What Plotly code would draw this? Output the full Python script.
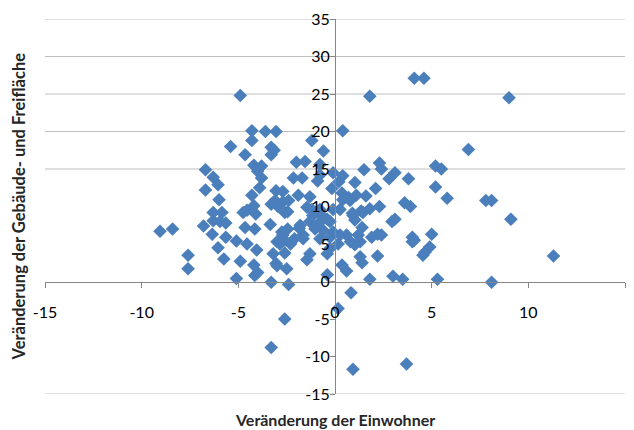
import plotly.graph_objects as go

# Veränderung der Einwohner (x) / Veränderung der Gebäude- und Freifläche (y)
x_einwohner = [
    -4.9, 1.8, 4.1, 4.6, 9.0, 6.9, 0.4, -4.3, -3.6, -3.05,
    -4.3, -5.4, -4.65, -3.3, -3.15, -3.3, -4.2, -3.8, -4.0, -6.7,
    -6.3, -6.05, -6.7, -6.0, -3.8, -3.9, -4.3, -4.2, -6.3, -5.85,
    -4.75, -4.55, -4.1, -3.05, -2.7, -3.3, -2.95, -2.7, -2.4, -2.45,
    -1.9, -2.0, -1.55, -2.15, -1.7, -1.2, -1.3, -0.9, -0.6, -0.78,
    -0.78, -0.1, 0.4, 0.2, -0.16, 0.36, 0.4, 0.78, 1.03, 1.1,
    1.6, 1.5, 2.3, 2.4, 2.1, 2.8, 3.1, 3.8, 3.6, 3.9,
    5.2, 5.5, 5.2, 5.8, 7.8, 8.1, 2.3, 1.8, 1.35, 0.9,
    9.1, 0.7, -9.05, -8.4, -7.6, -7.6, -6.8, -6.3, -5.95, -5.65,
    -6.35, -5.65, -5.1, -4.55, -6.05, -5.75, -4.9, -5.1, -4.65, -4.15,
    -4.05, -4.2, -4.0, -4.15, -3.35, -3.2, -3.05, -3.0, -3.3, -2.6,
    -2.5, -2.4, -2.6, -3.3, -2.45, -2.7, -3.0, -2.85, -2.3, -2.1,
    -1.85, -1.45, -1.3, -1.3, -1.65, -1.15, -1.2, -2.6, -0.4, -0.4,
    -0.26, 0.36, 0.6, 0.83, 0.16, 0.93, 3.7, 1.8, 3.0, 3.5,
    5.3, 8.1, 11.3, 2.2, 1.4, 1.3, 1.3, 1.2, 1.03, 0.8,
    0.6, 0.26, 0.16, 1.9, 2.2, 2.4, 2.95, 3.1, 4.0, 4.1,
    4.0, 5.0, 4.9, 4.65, 4.55, 0.93, 1.03, 1.4, 1.45, -0.78,
    -0.4, -0.6, -0.78, -1.65, -1.8, -0.1, 0.26, -0.78, -1.45, -3.1,
    -0.9, -0.6, -0.26, -0.1, -2.6, -0.26, -1.03, -2.75,
]
y_flaeche = [
    24.8, 24.7, 27.1, 27.1, 24.5, 17.6, 20.1, 20.1, 20.0, 20.0,
    18.8, 18.0, 16.9, 17.9, 17.5, 16.9, 15.5, 15.4, 14.7, 14.9,
    13.9, 12.9, 12.2, 10.9, 13.8, 12.5, 11.5, 10.1, 9.2, 9.2,
    9.2, 9.5, 9.0, 12.1, 12.0, 10.3, 10.0, 10.6, 10.8, 9.3,
    11.5, 15.9, 16.0, 13.8, 13.8, 18.8, 11.3, 13.4, 17.4, 15.6,
    14.2, 14.5, 14.1, 13.3, 12.4, 11.8, 10.9, 10.8, 13.2, 11.5,
    11.4, 14.9, 15.8, 15.0, 12.4, 13.7, 14.5, 13.7, 10.5, 10.0,
    15.4, 15.0, 12.6, 11.1, 10.8, 10.8, 10.0, 9.7, 9.4, 9.1,
    8.3, 11.2, 6.7, 7.0, 3.5, 1.7, 7.4, 8.1, 8.0, 7.8,
    6.3, 5.9, 5.4, 5.0, 4.5, 3.0, 2.7, 0.4, 7.2, 7.0,
    4.2, 2.2, 1.2, 0.8, 7.6, 3.7, 2.4, 2.1, -0.1, 3.8,
    1.7, -0.4, -5.0, -8.8, 7.0, 6.2, 5.3, 5.0, 5.0, 5.7,
    7.1, 2.9, 3.7, 8.0, 6.2, 8.8, 9.6, 9.2, 0.9, 3.7,
    4.4, 2.2, 1.4, -1.5, -3.6, -11.7, -11.0, 0.3, 0.7, 0.3,
    0.3, -0.1, 3.4, 3.4, 2.5, 3.3, 5.3, 6.2, 4.9, 5.3,
    6.2, 6.2, 5.0, 5.9, 6.3, 6.2, 8.0, 8.3, 5.9, 5.5,
    5.3, 6.3, 4.6, 3.9, 3.5, 8.8, 8.2, 7.2, 9.2, 7.9,
    8.3, 6.8, 5.7, 5.7, 7.5, 9.6, 9.6, 9.6, 9.9, 10.8,
    9.4, 8.6, 8.0, 6.6, 5.5, 5.9, 7.0, 6.6,
]

x_ticks = [-15, -10, -5, 0, 5, 10, 15]
y_ticks = [-15, -10, -5, 0, 5, 10, 15, 20, 25, 30, 35]
grid_y = [-15, 15, 20, 25, 30, 35]

x_title = "Veränderung der Einwohner"
y_title = "Veränderung der Gebäude- und Freifläche"

FONT = "Lato"
AXIS_GRAY = "#868686"

fig = go.Figure(
    go.Scatter(
        x=x_einwohner,
        y=y_flaeche,
        mode="markers",
        marker=dict(symbol="diamond", size=10.5, color="#4B7FBC", line=dict(width=0)),
        hoverinfo="x+y",
    )
)

for g in grid_y:
    fig.add_shape(
        type="line", xref="paper", x0=0, x1=1, yref="y", y0=g, y1=g,
        line=dict(color="#BFBFBF", width=1), layer="below",
    )

fig.update_layout(
    width=634,
    height=430,
    margin=dict(l=45, r=9, t=15, b=36),
    paper_bgcolor="white",
    plot_bgcolor="white",
    showlegend=False,
    font=dict(family=FONT, color="black"),
    xaxis=dict(
        range=[-15, 15],
        tickvals=x_ticks,
        ticktext=[str(v) for v in x_ticks],
        anchor="free",
        position=0.3,
        showline=True,
        linecolor=AXIS_GRAY,
        linewidth=1,
        ticks="outside",
        ticklen=5,
        tickcolor=AXIS_GRAY,
        showgrid=False,
        zeroline=False,
        tickfont=dict(family=FONT, size=16, color="black"),
        ticklabelstandoff=11,
    ),
    yaxis=dict(
        range=[-15, 35],
        tickvals=y_ticks,
        ticktext=[str(v) for v in y_ticks],
        anchor="free",
        position=0.5,
        showline=True,
        linecolor=AXIS_GRAY,
        linewidth=1,
        ticks="outside",
        ticklen=5,
        tickcolor=AXIS_GRAY,
        showgrid=False,
        zeroline=False,
        tickfont=dict(family=FONT, size=16, color="black"),
        ticklabelstandoff=-3,
    ),
    annotations=[
        dict(
            text=x_title, xref="paper", yref="paper", x=0.5, y=0,
            yshift=-25, xanchor="center", yanchor="middle", showarrow=False,
            font=dict(family=FONT, size=16, color="#262626", weight="bold"),
        ),
        dict(
            text=y_title, xref="paper", yref="paper", x=0, y=0.5,
            xshift=-27, xanchor="center", yanchor="middle", showarrow=False,
            textangle=-90,
            font=dict(family=FONT, size=16.5, color="#262626", weight="bold"),
        ),
    ],
)

fig.write_html("out.html")
